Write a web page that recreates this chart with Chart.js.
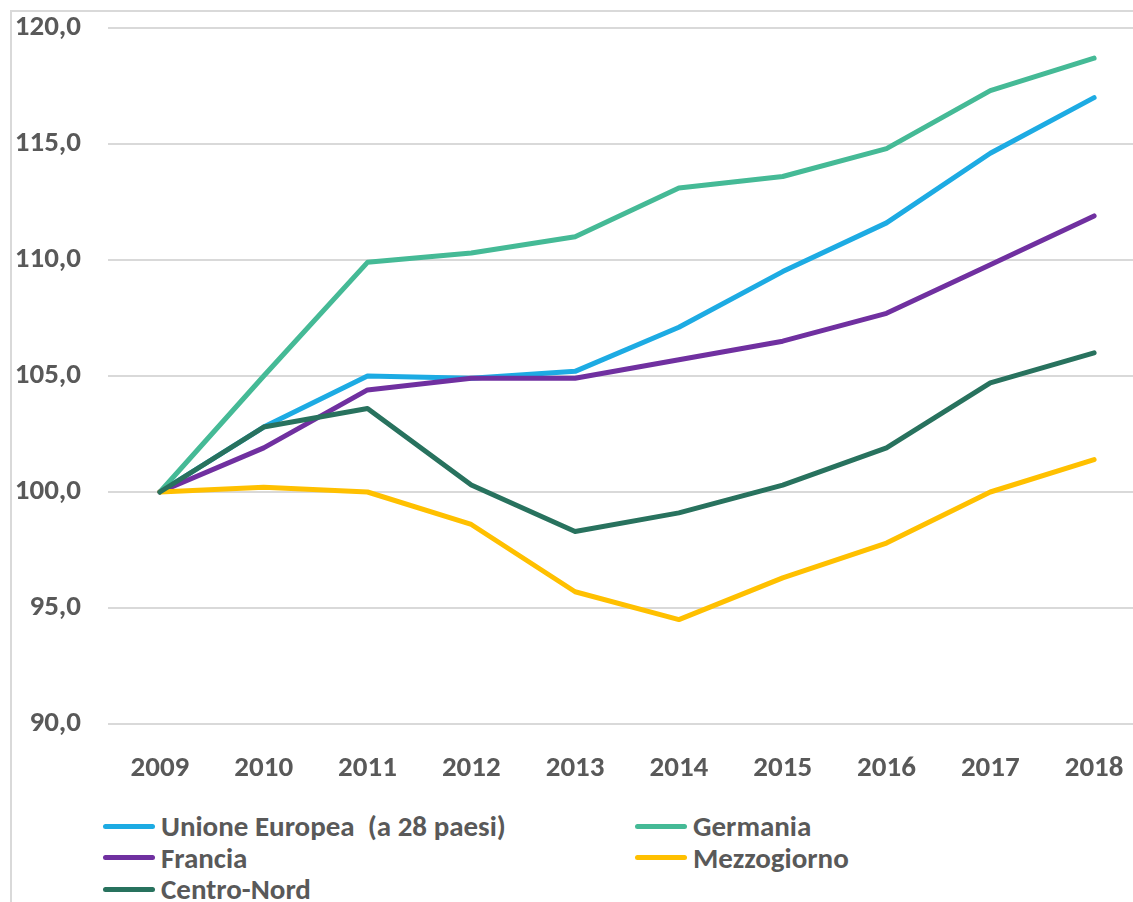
<!DOCTYPE html>
<html>
<head>
<meta charset="utf-8">
<script src="https://cdn.jsdelivr.net/npm/chart.js@4.4.1/dist/chart.umd.min.js"></script>
<style>
  html, body { margin: 0; padding: 0; background: #fff; overflow: hidden; }
  body { width: 1133px; height: 902px; position: relative; }
  #frame { position: absolute; left: 10px; top: 10px; width: 1200px; height: 1000px;
           border-left: 2px solid #D9D9D9; border-top: 2px solid #D9D9D9; }
  #wrap { position: absolute; left: 0; top: 0; width: 1146px; height: 790px; }
  #legend { position: absolute; left: 0; top: 810px; width: 1133px; }
  .item { position: absolute; height: 32px; display: flex; align-items: center; white-space: pre;
          font: bold 29px Carlito, "Liberation Sans Narrow", "Liberation Sans", sans-serif; color: #595959; }
  .item .mark { width: 52px; height: 5px; border-radius: 3px; margin-right: 6px; }
</style>
</head>
<body>
<div id="frame"></div>
<div id="wrap"><canvas id="chart"></canvas></div>
<div id="legend"></div>
<script>
const years = ['2009', '2010', '2011', '2012', '2013', '2014', '2015', '2016', '2017', '2018'];

const ue = [100.0, 102.8, 105.0, 104.9, 105.2, 107.1, 109.5, 111.6, 114.6, 117.0];
const germania = [100.0, 105.0, 109.9, 110.3, 111.0, 113.1, 113.6, 114.8, 117.3, 118.7];
const francia = [100.0, 101.9, 104.4, 104.9, 104.9, 105.7, 106.5, 107.7, 109.8, 111.9];
const mezzogiorno = [100.0, 100.2, 100.0, 98.6, 95.7, 94.5, 96.3, 97.8, 100.0, 101.4];
const centroNord = [100.0, 102.8, 103.6, 100.3, 98.3, 99.1, 100.3, 101.9, 104.7, 106.0];

const seriesNames = ['Unione Europea  (a 28 paesi)', 'Germania', 'Francia', 'Mezzogiorno', 'Centro-Nord'];
const seriesData = [ue, germania, francia, mezzogiorno, centroNord];
const seriesColors = ['#1DABE3', '#45BA96', '#7030A0', '#FFC000', '#28725E'];

const FONT = 'Carlito, "Liberation Sans Narrow", "Liberation Sans", sans-serif';

const datasets = seriesNames.map((name, i) => ({
    label: name,
    data: seriesData[i],
    borderColor: seriesColors[i],
    backgroundColor: seriesColors[i],
    borderWidth: 5,
    pointRadius: 0,
    tension: 0,
    borderCapStyle: 'round',
    borderJoinStyle: 'round',
    order: seriesNames.length - i, // last series on top, like Excel
}));

const chart = new Chart(document.getElementById('chart'), {
    type: 'line',
    data: { labels: years, datasets },
    options: {
        responsive: true,
        maintainAspectRatio: false,
        animation: false,
        layout: { padding: { top: 28, right: 0, left: 0, bottom: 0 } },
        plugins: { legend: { display: false }, tooltip: { enabled: false } },
        scales: {
            x: {
                offset: true,
                grid: { display: false, drawTicks: false },
                border: { display: false },
                ticks: { color: '#595959', padding: 27, font: { family: FONT, size: 29, weight: 'bold' } },
                afterFit: s => { s.height = 66; s.paddingLeft = 0; s.paddingRight = 0; },
            },
            y: {
                min: 90,
                max: 120,
                ticks: {
                    stepSize: 5,
                    padding: 27,
                    color: '#595959',
                    font: { family: FONT, size: 29, weight: 'bold' },
                    callback: v => v.toFixed(1).replace('.', ','),
                },
                grid: { color: '#D9D9D9', lineWidth: 2, drawTicks: false },
                border: { display: false },
                afterFit: s => { s.width = 108; s.paddingTop = 0; s.paddingBottom = 0; },
            },
        },
    },
});

// two-column legend like the original
const legend = document.getElementById('legend');
chart.data.datasets.forEach((ds, i) => {
    const el = document.createElement('div');
    el.className = 'item';
    el.style.left = (i % 2 === 0 ? 103 : 635) + 'px';
    el.style.top = (Math.floor(i / 2) * 31.5) + 'px';
    el.innerHTML = '<span class="mark" style="background:' + ds.borderColor + '"></span>' + ds.label;
    legend.appendChild(el);
});
</script>
</body>
</html>
